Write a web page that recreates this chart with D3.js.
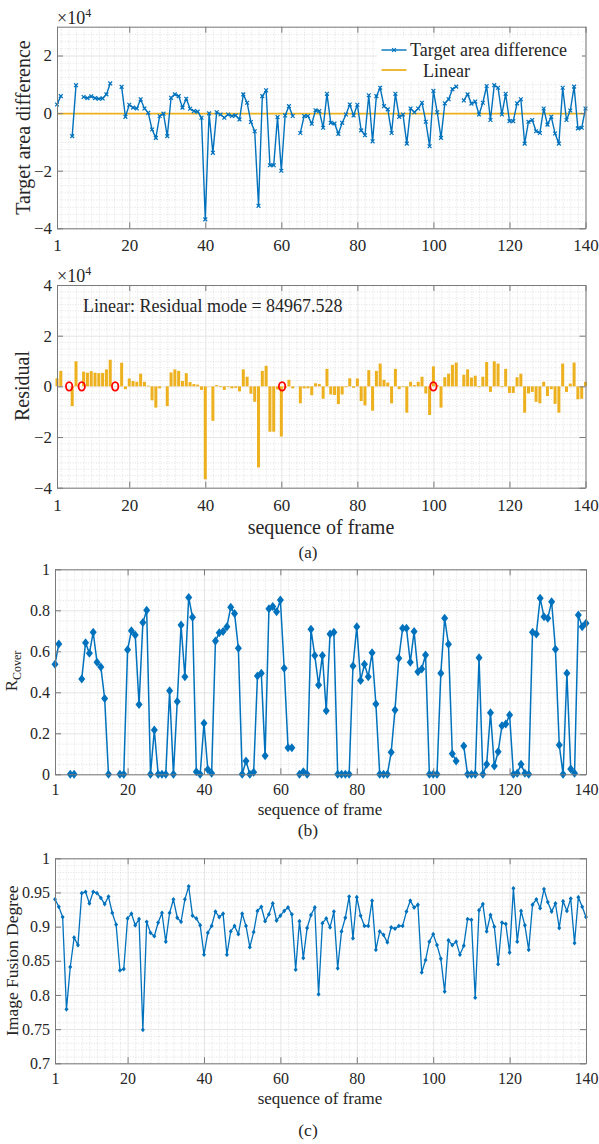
<!DOCTYPE html>
<html><head><meta charset="utf-8">
<script src="https://cdn.jsdelivr.net/npm/d3@7"></script>
<style>
body{margin:0;background:#fff}
svg{display:block}
text{font-family:"Liberation Serif","Times New Roman",serif;fill:#262626}
</style>
</head><body>
<svg id="c" width="599" height="1144"></svg>
<script>
// ---------------- data ----------------
const frames = d3.range(1, 141);
const xTickValues = [1, 20, 40, 60, 80, 100, 120, 140];

// Target area difference (×10^4), null = missing frame
const targetDiff = [
 0.30,0.59,null,null,-0.80,0.97,null,0.56,0.52,0.58,
 0.52,0.50,0.51,0.65,1.03,null,null,0.91,-0.13,0.29,
 0.19,0.16,0.48,0.16,0.01,-0.57,-0.86,-0.10,-0.02,-0.80,
 0.53,0.65,0.59,0.19,0.50,0.15,0.07,0.05,-0.16,-3.69,
 -0.01,-1.38,0.03,-0.05,-0.16,-0.05,-0.10,-0.08,-0.22,0.65,
 0.36,-0.31,-0.63,-3.22,0.59,0.79,-1.81,-1.81,-0.14,-2.00,
 -0.08,0.24,-0.10,null,-0.69,-0.10,-0.10,-0.37,0.10,0.07,
 -0.51,0.67,-0.34,-0.36,-0.72,-0.34,-0.05,0.30,-0.08,0.29,
 -0.60,-0.77,0.62,-0.98,0.59,0.88,0.24,0.13,-0.69,0.67,
 -0.13,-0.05,-1.06,0.16,0.03,0.16,0.36,-0.30,-1.15,0.77,
 0.03,-0.86,0.34,0.48,0.83,0.92,null,0.44,0.65,0.33,
 0.40,-0.05,0.36,0.94,-0.24,0.97,0.88,-0.05,0.67,-0.28,
 -0.28,0.34,0.48,-1.06,-0.30,-0.24,-0.63,-0.69,0.16,-0.40,
 -0.13,-0.71,-1.06,0.88,-0.24,0.09,0.92,-0.53,-0.51,0.16
];
const linearFitValue = -0.02;           // ×10^4
const residualMarks = [4.2, 7.5, 16.3, 60.2, 100];
const residualText = "Linear: Residual mode = 84967.528";

const rCover = [
 0.537,0.636,null,null,0,0,null,0.465,0.642,0.59,
 0.693,0.547,0.523,0.37,0,null,null,0,0,0.607,
 0.70,0.68,0.34,0.74,0.80,0,0.216,0,0,0,
 0.408,0,0.355,0.728,0.476,0.863,0.766,0.013,0,0.249,
 0.024,0.005,0.65,0.69,0.696,0.72,0.815,0.785,0.615,0,
 0.065,0,0.01,0.48,0.493,0.09,0.807,0.818,0.793,0.85,
 0.517,0.13,0.13,null,0,0.012,0,0.707,0.58,0.436,
 0.58,0.31,0.685,0.693,0,0,0,0,0.528,0.72,
 0.457,0.537,0.476,0.593,0.343,0,0,0,0.107,0.314,
 0.566,0.712,0.712,0.546,0.696,0.5,0.514,0.582,0,0,
 0,0.493,0.761,0.634,0.1,0.065,null,0.138,0,0,
 0,0.569,0,0.049,0.3,0.04,0.11,0.237,0.245,0.289,
 0,0.005,0.049,0.005,0,0.693,0.685,0.859,0.769,0.761,
 0.842,0.61,0.143,0,0.493,0.026,0.005,0.777,0.72,0.737
];

const fusion = [
 0.940,0.929,0.914,0.779,0.841,0.884,0.873,0.949,0.951,0.934,
 0.951,0.949,0.942,0.933,0.944,0.920,0.903,0.836,0.838,0.912,
 0.919,0.902,0.911,0.749,0.907,0.891,0.886,0.906,0.920,0.878,
 0.920,0.940,0.913,0.907,0.940,0.959,0.916,0.912,0.902,0.859,
 0.891,0.901,0.922,0.914,0.919,0.859,0.893,0.901,0.889,0.919,
 0.901,0.870,0.892,0.923,0.929,0.908,0.918,0.934,0.909,0.916,
 0.923,0.928,0.918,0.837,0.908,0.854,0.898,0.917,0.928,0.801,
 0.905,0.912,0.899,0.922,0.839,0.893,0.913,0.944,0.883,0.943,
 0.916,0.901,0.901,0.938,0.866,0.893,0.888,0.877,0.899,0.897,
 0.901,0.901,0.922,0.938,0.928,0.932,0.833,0.851,0.878,0.889,
 0.873,0.853,0.805,0.880,0.873,0.878,0.859,0.872,0.911,0.910,
 0.796,0.924,0.933,0.893,0.917,0.900,0.845,0.906,0.904,0.862,
 0.956,0.878,0.923,0.902,0.866,0.932,0.940,0.927,0.955,0.936,
 0.922,0.934,0.898,0.937,0.923,0.941,0.876,0.943,0.929,0.914
];

// ---------------- styles ----------------
const BLUE = "#0072BD", YELLOW = "#EDB120", RED = "#FF0000";
const SERIF = '"Liberation Serif","Times New Roman",serif';
const svg = d3.select("#c");
svg.append("rect").attr("width",599).attr("height",1144).attr("fill","#fff");

function panel(o){
  const g = svg.append("g");
  const x = d3.scaleLinear().domain([1,140]).range([o.left,o.right]);
  const y = d3.scaleLinear().domain(o.yDomain).range([o.bottom,o.top]);
  const W = o.right-o.left, H = o.bottom-o.top;
  g.append("rect").attr("x",o.left).attr("y",o.top).attr("width",W).attr("height",H).attr("fill","#fff");
  // minor grid
  const xMinor = d3.range(2,140,2).filter(v=>!xTickValues.includes(v));
  const yMinor = d3.range(o.yDomain[0], o.yDomain[1]+1e-9, o.yMinor).filter(v=>!o.yTicks.some(t=>Math.abs(t-v)<1e-9));
  const minorStyle = a=>{a.select(".domain").remove();a.selectAll("line").attr("stroke","#cfcfcf").attr("stroke-width",0.6).attr("stroke-dasharray","1,1.6");};
  g.append("g").attr("transform",`translate(0,${o.bottom})`)
    .call(d3.axisBottom(x).tickValues(xMinor).tickSize(-H).tickFormat("")).call(minorStyle);
  g.append("g").attr("transform",`translate(${o.left},0)`)
    .call(d3.axisLeft(y).tickValues(yMinor).tickSize(-W).tickFormat("")).call(minorStyle);
  // major grid
  const majorStyle = a=>{a.select(".domain").remove();a.selectAll("line").attr("stroke","#dedede").attr("stroke-width",0.8);};
  g.append("g").attr("transform",`translate(0,${o.bottom})`)
    .call(d3.axisBottom(x).tickValues(xTickValues).tickSize(-H).tickFormat("")).call(majorStyle);
  g.append("g").attr("transform",`translate(${o.left},0)`)
    .call(d3.axisLeft(y).tickValues(o.yTicks).tickSize(-W).tickFormat("")).call(majorStyle);
  const plot = g.append("g");
  // axes with inward ticks
  const styleAx = a=>{
    a.attr("font-family",SERIF).attr("font-size",o.tickFont);
    a.select(".domain").attr("stroke","#7a7a7a").attr("stroke-width",1);
    a.selectAll(".tick line").attr("stroke","#7a7a7a").attr("stroke-width",1);
    a.selectAll("text").attr("fill","#262626").style("font-family",SERIF).style("font-size",o.tickFont+"px");};
  g.append("g").attr("transform",`translate(0,${o.bottom})`)
    .call(d3.axisBottom(x).tickValues(xTickValues).tickSizeInner(-6).tickSizeOuter(0).tickPadding(o.xPad).tickFormat(d3.format("d")))
    .call(styleAx);
  g.append("g").attr("transform",`translate(0,${o.top})`)
    .call(d3.axisTop(x).tickValues(xTickValues).tickSizeInner(-6).tickSizeOuter(0).tickFormat(""))
    .call(styleAx);
  g.append("g").attr("transform",`translate(${o.left},0)`)
    .call(d3.axisLeft(y).tickValues(o.yTicks).tickSizeInner(-6).tickSizeOuter(0).tickPadding(o.yPad).tickFormat(o.yFmt))
    .call(styleAx);
  g.append("g").attr("transform",`translate(${o.right},0)`)
    .call(d3.axisRight(y).tickValues(o.yTicks).tickSizeInner(-6).tickSizeOuter(0).tickFormat(""))
    .call(styleAx);
  return {g, plot, x, y};
}

function yLabel(text, cx, cy, size){
  svg.append("text").attr("transform",`translate(${cx},${cy}) rotate(-90)`)
    .attr("text-anchor","middle").attr("dy","0.35em").style("font-size",size+"px").text(text);
}
function centerText(text, cx, cy, size){
  svg.append("text").attr("x",cx).attr("y",cy).attr("text-anchor","middle").attr("dy","0.35em")
    .style("font-size",size+"px").text(text);
}
function exponent(x, cy){
  const t = svg.append("text").attr("x",x).attr("y",cy).attr("dy","0.35em").style("font-size","18px");
  t.append("tspan").text("×10");
  t.append("tspan").attr("dy","-7").style("font-size","12px").text("4");
}
function xMarker(sel, cx, cy, s, color){
  sel.append("path").attr("d",`M${cx-s},${cy-s}L${cx+s},${cy+s}M${cx-s},${cy+s}L${cx+s},${cy-s}`)
    .attr("stroke",color).attr("stroke-width",1.2).attr("fill","none");
}

// ---------------- Panel 1 ----------------
const p1 = panel({left:57,right:585.5,top:26.7,bottom:228.3,yDomain:[-4,3],yTicks:[-4,-2,0,2],yMinor:0.25,
  yFmt:d3.format("d"),tickFont:17,xPad:11,yPad:5});
const pts1 = frames.map((f,i)=>({f, v:targetDiff[i]}));
p1.plot.append("path").datum([{f:1},{f:140}])
  .attr("d",d3.line().x(d=>p1.x(d.f)).y(()=>p1.y(linearFitValue)))
  .attr("stroke",YELLOW).attr("stroke-width",1.8).attr("fill","none");
p1.plot.append("path").datum(pts1)
  .attr("d",d3.line().defined(d=>d.v!=null).x(d=>p1.x(d.f)).y(d=>p1.y(d.v)))
  .attr("stroke",BLUE).attr("stroke-width",1.4).attr("fill","none");
pts1.filter(d=>d.v!=null).forEach(d=>xMarker(p1.plot,p1.x(d.f),p1.y(d.v),1.9,BLUE));
exponent(57,18);
yLabel("Target area difference",23,127.5,20);
// legend
const lg = svg.append("g");
lg.append("rect").attr("x",377).attr("y",38).attr("width",205).attr("height",44).attr("fill","#fff");
lg.append("line").attr("x1",381.5).attr("x2",406.5).attr("y1",50).attr("y2",50).attr("stroke",BLUE).attr("stroke-width",1.4);
xMarker(lg,394,50,1.9,BLUE);
lg.append("text").attr("x",410).attr("y",50).attr("dy","0.35em").style("font-size","18px").text("Target area difference");
lg.append("line").attr("x1",381.5).attr("x2",406.5).attr("y1",70).attr("y2",70).attr("stroke",YELLOW).attr("stroke-width",1.8);
lg.append("text").attr("x",423).attr("y",71).attr("dy","0.35em").style("font-size","18px").text("Linear");

// ---------------- Panel 2 ----------------
const p2 = panel({left:57,right:585.5,top:285,bottom:487.7,yDomain:[-4,4],yTicks:[-4,-2,0,2,4],yMinor:0.25,
  yFmt:d3.format("d"),tickFont:17,xPad:11,yPad:5});
const resid = pts1.filter(d=>d.v!=null).map(d=>({f:d.f, r:d.v - linearFitValue}));
p2.plot.selectAll("rect.bar").data(resid).enter().append("rect")
  .attr("x",d=>p2.x(d.f)-1.5).attr("width",3)
  .attr("y",d=>Math.min(p2.y(d.r),p2.y(0))).attr("height",d=>Math.abs(p2.y(d.r)-p2.y(0)))
  .attr("fill",YELLOW);
p2.plot.selectAll("ellipse").data(residualMarks).enter().append("ellipse")
  .attr("cx",d=>p2.x(d)).attr("cy",p2.y(0)).attr("rx",3.2).attr("ry",4.3)
  .attr("fill","none").attr("stroke",RED).attr("stroke-width",1.8);
svg.append("text").attr("x",83).attr("y",306).attr("dy","0.35em").style("font-size","18px").text(residualText);
exponent(57,276);
yLabel("Residual",22,386,20);
centerText("sequence of frame",321,527,20);
centerText("(a)",308,552,17);

// ---------------- Panel 3 ----------------
const p3 = panel({left:55,right:586,top:569.3,bottom:774.3,yDomain:[0,1],yTicks:[0,0.2,0.4,0.6,0.8,1],yMinor:0.05,
  yFmt:d=>String(+d.toFixed(1)),tickFont:16,xPad:9,yPad:5});
const pts3 = frames.map((f,i)=>({f, v:rCover[i]}));
p3.plot.append("path").datum(pts3)
  .attr("d",d3.line().defined(d=>d.v!=null).x(d=>p3.x(d.f)).y(d=>p3.y(d.v)))
  .attr("stroke",BLUE).attr("stroke-width",1.5).attr("fill","none");
p3.plot.selectAll("path.dm").data(pts3.filter(d=>d.v!=null)).enter().append("path")
  .attr("d",d=>{const cx=p3.x(d.f),cy=p3.y(d.v);return `M${cx},${cy-4.5}L${cx+3.5},${cy}L${cx},${cy+4.5}L${cx-3.5},${cy}Z`;})
  .attr("fill",BLUE);
const rl = svg.append("text").attr("transform","translate(17,671) rotate(-90)").attr("text-anchor","middle");
rl.append("tspan").style("font-size","17px").text("R");
rl.append("tspan").attr("dy","4").style("font-size","12px").text("Cover");
centerText("sequence of frame",320,809.3,17);
centerText("(b)",308,830,17.5);

// ---------------- Panel 4 ----------------
const p4 = panel({left:55,right:586,top:858.3,bottom:1063.3,yDomain:[0.7,1],yTicks:[0.7,0.75,0.8,0.85,0.9,0.95,1],yMinor:0.01,
  yFmt:d=>String(+d.toFixed(2)),tickFont:16,xPad:9,yPad:5});
const pts4 = frames.map((f,i)=>({f, v:fusion[i]}));
p4.plot.append("path").datum(pts4)
  .attr("d",d3.line().x(d=>p4.x(d.f)).y(d=>p4.y(d.v)))
  .attr("stroke",BLUE).attr("stroke-width",1.3).attr("fill","none");
p4.plot.selectAll("path.dm").data(pts4).enter().append("path")
  .attr("d",d=>{const cx=p4.x(d.f),cy=p4.y(d.v);return `M${cx},${cy-2.4}L${cx+2},${cy}L${cx},${cy+2.4}L${cx-2},${cy}Z`;})
  .attr("fill",BLUE);
yLabel("Image Fusion Degree",12,960.7,17.5);
centerText("sequence of frame",320,1098.3,17);
centerText("(c)",308,1130,17.5);
</script>
</body></html>
